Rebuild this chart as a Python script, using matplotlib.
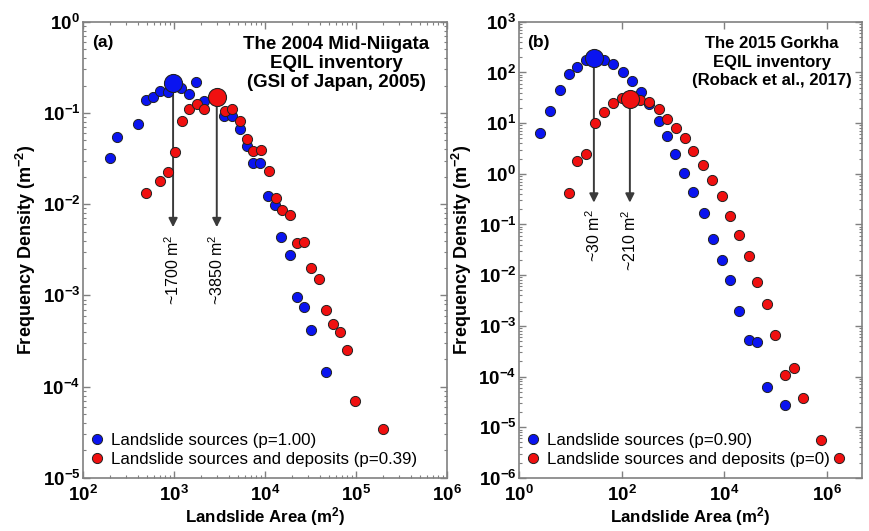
import matplotlib
matplotlib.use('Agg')
import matplotlib.pyplot as plt
import numpy as np
from matplotlib.ticker import LogLocator, NullLocator, LogFormatterSciNotation

plt.rcParams['font.family'] = ['Liberation Sans', 'DejaVu Sans']
plt.rcParams['mathtext.default'] = 'regular'

# --- (a) 2004 Mid-Niigata ---
a_src_area = [200, 238, 407, 490, 589, 708, 851, 977, 1202, 1479, 1738, 2138, 3548, 4365,
              5248, 6310, 7413, 8913, 10715, 12882, 15136, 18621, 22387, 26915, 32359, 46774]
a_src_dens = [0.032, 0.054, 0.076, 0.139, 0.148, 0.175, 0.17, 0.214, 0.186, 0.162, 0.219, 0.135,
              0.093, 0.093, 0.066, 0.044, 0.028, 0.028, 0.0123, 0.0098, 0.0044, 0.00275, 0.00095,
              0.00074, 0.00042, 0.000145]
a_dep_area = [490, 708, 851, 1023, 1230, 1479, 1778, 2138, 2951, 3631, 4365, 5370, 6310, 7413,
              9120, 10965, 13183, 15488, 18621, 22387, 26915, 32359, 38905, 46774, 56234, 66069,
              79433, 97724, 199526]
a_dep_dens = [0.0132, 0.0178, 0.0224, 0.037, 0.082, 0.11, 0.126, 0.11, 0.151, 0.105, 0.11, 0.081,
              0.052, 0.038, 0.039, 0.0234, 0.0117, 0.0087, 0.0076, 0.0038, 0.0039, 0.002, 0.0015,
              0.0007, 0.00049, 0.0004, 0.00025, 0.00007, 0.0000347]
a_peaks = [7, 8]                      # rollover point in each series
a_peak_labels = ['~1700 m$^2$', '~3850 m$^2$']
a_legend = ['Landslide sources (p=1.00)', 'Landslide sources and deposits (p=0.39)']
a_title = 'The 2004 Mid-Niigata\nEQIL inventory\n(GSI of Japan, 2005)'

# --- (b) 2015 Gorkha ---
b_src_area = [2.6, 4.0, 6.2, 9.3, 13.8, 20.4, 28.8, 45.7, 69.2, 105, 158, 234, 347, 525, 759,
              1122, 1660, 2512, 3981, 6026, 9120, 12882, 19498, 30200, 43652, 67608, 154882]
b_src_dens = [6.5, 17, 45, 93, 129, 178, 195, 174, 145, 100, 69, 42, 23.4, 11.2, 5.6, 2.5, 1.05,
              0.44, 0.17, 0.051, 0.020, 0.0081, 0.00195, 0.00052, 0.00047, 6.2e-5, 2.8e-5]
b_dep_area = [9.3, 13.2, 20.4, 30.2, 45.7, 69.2, 100, 145, 224, 347, 525, 759, 1148, 1698, 2512,
              3802, 5754, 8913, 12882, 19498, 30200, 43652, 67608, 100000, 154882, 229087,
              338844, 758578, 1737801]
b_dep_dens = [0.41, 1.82, 2.45, 10, 16.6, 25.1, 30.9, 30.2, 28.8, 26.3, 18.6, 12.3, 8.1, 5.0,
              2.8, 1.51, 0.76, 0.36, 0.148, 0.063, 0.0234, 0.0074, 0.00275, 0.00065, 0.000105,
              0.000145, 3.7e-5, 5.5e-6, 2.5e-6]
b_peaks = [6, 7]
b_peak_labels = ['~30 m$^2$', '~210 m$^2$']
b_legend = ['Landslide sources (p=0.90)', 'Landslide sources and deposits (p=0)']
b_title = 'The 2015 Gorkha\nEQIL inventory\n(Roback et al., 2017)'

colors = ['#0a14f0', '#f01010']
frame = '#808080'

fig = plt.figure(figsize=(8.7, 5.31), dpi=100)
ax_a = fig.add_axes([0.0954, 0.100, 0.4184, 0.859])
ax_b = fig.add_axes([0.5966, 0.100, 0.3943, 0.859])


def draw_panel(ax, series, peaks, peak_labels, legend, title, tag, arrow_end, xlim, ylim, xstep,
               title_x, title_size, title_spacing):
    for (area, dens), c, lab in zip(series, colors, legend):
        ax.plot(area, dens, 'o', ms=7.3, mfc=c, mec='#222222', mew=0.7, label=lab, zorder=3)
    for (area, dens), c, p, plab in zip(series, colors, peaks, peak_labels):
        ax.annotate('', xy=(area[p], arrow_end), xytext=(area[p], dens[p]),
                    arrowprops=dict(arrowstyle='-|>', color='#3a3a3a', lw=1.4,
                                    mutation_scale=13, shrinkA=0, shrinkB=0), zorder=2)
        ax.plot(area[p], dens[p], 'o', ms=13, mfc=c, mec='#222222', mew=0.8, zorder=5)
        ax.annotate(plab, xy=(area[p], arrow_end), xytext=(0, -5), textcoords='offset points',
                    rotation=90, ha='center', va='top', fontsize=11.5)
    ax.set_xscale('log')
    ax.set_yscale('log')
    ax.set_xlim(*xlim)
    ax.set_ylim(*ylim)

    if xstep > 1:
        ax.xaxis.set_major_locator(plt.FixedLocator([10.0 ** k for k in range(0, 7, xstep)]))
        ax.xaxis.set_minor_locator(NullLocator())
    else:
        ax.xaxis.set_major_locator(LogLocator(base=10, subs=(1.0,), numticks=20))
        ax.xaxis.set_minor_locator(LogLocator(base=10, subs=np.arange(2, 10), numticks=20))
    ax.xaxis.set_major_formatter(LogFormatterSciNotation())
    ax.yaxis.set_major_locator(LogLocator(base=10, subs=(1.0,), numticks=20))
    ax.yaxis.set_minor_locator(LogLocator(base=10, subs=np.arange(2, 10), numticks=20))

    ax.tick_params(which='both', direction='in', top=True, right=True, color=frame)
    ax.tick_params(which='major', length=5, width=1, labelsize=13.5)
    ax.tick_params(axis='x', which='major', pad=5)
    ax.tick_params(axis='y', which='major', pad=2)
    ax.tick_params(which='minor', length=2.5, width=0.8)
    for lbl in ax.get_xticklabels() + ax.get_yticklabels():
        lbl.set_fontweight('bold')
    for s in ax.spines.values():
        s.set_color(frame)
        s.set_linewidth(1.2)

    ax.set_xlabel('Landslide Area (m$^2$)', fontsize=12.2, fontweight='bold', labelpad=0)
    ax.set_ylabel('Frequency Density (m$^{-2}$)', fontsize=13, fontweight='bold', labelpad=3)

    ax.text(0.025, 0.955, tag, transform=ax.transAxes, fontsize=12.5, fontweight='bold',
            ha='left', va='center')
    ax.text(title_x, 0.968, title, transform=ax.transAxes, fontsize=title_size,
            fontweight='bold', ha='center', va='top', multialignment='center',
            linespacing=title_spacing)

    ax.legend(loc='lower left', bbox_to_anchor=(0.008, 0.012), frameon=False, fontsize=12.2,
              handlelength=0.7, handletextpad=0.5, labelspacing=0.25, borderaxespad=0,
              numpoints=1, borderpad=0.3)


draw_panel(ax_a, [(a_src_area, a_src_dens), (a_dep_area, a_dep_dens)], a_peaks, a_peak_labels,
           a_legend, a_title, '(a)', 0.0056, (1e2, 1e6), (1e-5, 1e0), 1, 0.695, 13.5, 1.15)
draw_panel(ax_b, [(b_src_area, b_src_dens), (b_dep_area, b_dep_dens)], b_peaks, b_peak_labels,
           b_legend, b_title, '(b)', 0.27, (1e0, 10 ** 6.69), (1e-6, 1e3), 2, 0.738, 12, 1.29)

fig.savefig('out.png', dpi=100, facecolor='white')
